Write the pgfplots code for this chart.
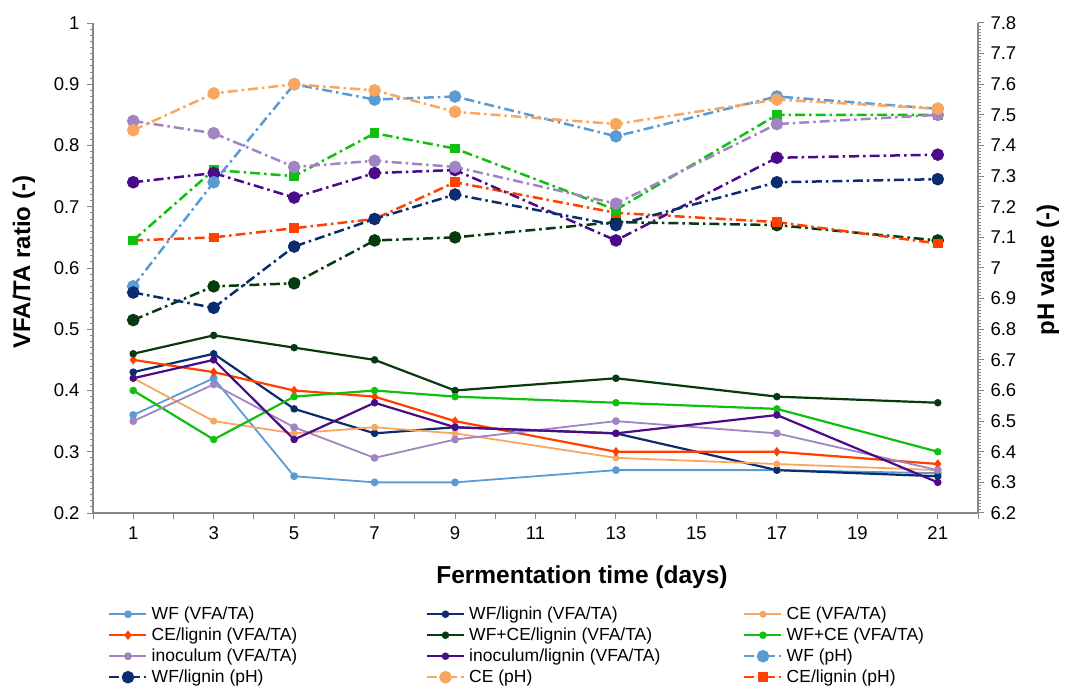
\documentclass[border=0pt]{standalone}
\usepackage{fontspec}
\setmainfont{Liberation Sans}
\usepackage{pgfplots}
\pgfplotsset{compat=1.18}
\definecolor{cWF}{HTML}{5B9BD5}
\definecolor{cWFL}{HTML}{0B2C6E}
\definecolor{cCE}{HTML}{F9A65F}
\definecolor{cCEL}{HTML}{FF4000}
\definecolor{cWCL}{HTML}{073B0F}
\definecolor{cWC}{HTML}{10C010}
\definecolor{cIN}{HTML}{A085C2}
\definecolor{cINL}{HTML}{4B0A8A}
\definecolor{axgray}{RGB}{134,134,134}
\pgfplotsset{
  vfa/.style={color=#1, solid, line width=2.2pt, mark=*, mark size=2.6pt, mark options={solid,fill=#1}},
  ph/.style={color=#1, line width=2.5pt, dash pattern=on 10pt off 4pt on 2.5pt off 4pt, mark=*, mark size=5pt, mark options={solid,fill=#1}},
  phsq/.style={color=#1, line width=2.5pt, dash pattern=on 10pt off 4pt on 2.5pt off 4pt, mark=square*, mark size=3.6pt, mark options={solid,fill=#1}},
  basestyle/.style={
    scale only axis, width=885pt, height=490pt,
    xmin=0, xmax=22,
    axis line style={axgray, line width=1.3pt, -},
    tick style={axgray, line width=1pt},
    tick align=outside,
    major tick length=6pt, minor tick length=3pt,
    tick label style={font=\fontsize{18.5}{20}\selectfont, text=black},
    clip=false,
  },
}
\begin{document}
\begin{tikzpicture}[x=1pt,y=1pt]
\path[use as bounding box] (0,0) rectangle (1066,686);
\begin{axis}[basestyle,
  at={(93pt,173pt)}, anchor=south west,
  ymin=0.2, ymax=1,
  axis x line*=bottom, axis y line*=left,
  xtick={0,...,22},
  xticklabels={,1,,3,,5,,7,,9,,11,,13,,15,,17,,19,,21,},
  ytick={0.2,0.3,0.4,0.5,0.6,0.7,0.8,0.9,1},
  yticklabels={0.2,0.3,0.4,0.5,0.6,0.7,0.8,0.9,1},
  minor y tick num=9,
  xticklabel style={yshift=-4pt},
  yticklabel style={xshift=-4pt},
  xlabel={Fermentation time (days)},
  xlabel style={at={(rel axis cs:0.5525,-0.1306)}, anchor=center, font=\bfseries\fontsize{24.5}{27}\selectfont},
  ylabel={VFA/TA ratio (-)},
  ylabel style={at={(rel axis cs:-0.078,0.512)}, anchor=center, font=\bfseries\fontsize{24}{27}\selectfont},
  legend columns=3,
  legend cell align=left,
  legend style={at={(rel axis cs:0.017,-0.1878)}, anchor=north west, draw=none, fill=none, inner sep=0pt,
    font=\fontsize{17.5}{21}\selectfont, row sep=3pt,
    nodes={inner sep=0pt, text height=14pt, text depth=4pt},
    /tikz/every odd column/.append style={column sep=4pt}},
  legend image code/.code={\draw[mark repeat=2, mark phase=2, #1] plot coordinates {(0pt,0pt) (18.5pt,0pt) (37pt,0pt)};},
]
\addplot[vfa=cWF, line width=1.8pt, mark size=3pt] coordinates {(1,0.36)(3,0.42)(5,0.26)(7,0.25)(9,0.25)(13,0.27)(17,0.27)(21,0.265)};
\addlegendentry{\makebox[274pt][l]{WF (VFA/TA)}}
\addplot[vfa=cWFL] coordinates {(1,0.43)(3,0.46)(5,0.37)(7,0.33)(9,0.34)(13,0.33)(17,0.27)(21,0.26)};
\addlegendentry{\makebox[274pt][l]{WF/lignin (VFA/TA)}}
\addplot[vfa=cCE, line width=1.8pt] coordinates {(1,0.42)(3,0.35)(5,0.33)(7,0.34)(9,0.33)(13,0.29)(17,0.28)(21,0.27)};
\addlegendentry{\makebox[274pt][l]{CE (VFA/TA)}}
\addplot[vfa=cCEL, mark=diamond*, mark size=3pt] coordinates {(1,0.45)(3,0.43)(5,0.40)(7,0.39)(9,0.35)(13,0.30)(17,0.30)(21,0.28)};
\addlegendentry{\makebox[274pt][l]{CE/lignin (VFA/TA)}}
\addplot[vfa=cWCL] coordinates {(1,0.46)(3,0.49)(5,0.47)(7,0.45)(9,0.40)(13,0.42)(17,0.39)(21,0.38)};
\addlegendentry{\makebox[274pt][l]{WF+CE/lignin (VFA/TA)}}
\addplot[vfa=cWC] coordinates {(1,0.40)(3,0.32)(5,0.39)(7,0.40)(9,0.39)(13,0.38)(17,0.37)(21,0.30)};
\addlegendentry{\makebox[274pt][l]{WF+CE (VFA/TA)}}
\addplot[vfa=cIN, line width=1.8pt, mark size=3pt] coordinates {(1,0.35)(3,0.41)(5,0.34)(7,0.29)(9,0.32)(13,0.35)(17,0.33)(21,0.27)};
\addlegendentry{\makebox[274pt][l]{inoculum (VFA/TA)}}
\addplot[vfa=cINL] coordinates {(1,0.42)(3,0.45)(5,0.32)(7,0.38)(9,0.34)(13,0.33)(17,0.36)(21,0.25)};
\addlegendentry{\makebox[274pt][l]{inoculum/lignin (VFA/TA)}}
\addlegendimage{ph=cWF}
\addlegendentry{\makebox[274pt][l]{WF (pH)}}
\addlegendimage{ph=cWFL}
\addlegendentry{\makebox[274pt][l]{WF/lignin (pH)}}
\addlegendimage{ph=cCE}
\addlegendentry{\makebox[274pt][l]{CE (pH)}}
\addlegendimage{phsq=cCEL}
\addlegendentry{\makebox[274pt][l]{CE/lignin (pH)}}
\end{axis}
\begin{axis}[basestyle,
  at={(93pt,173pt)}, anchor=south west,
  ymin=6.2, ymax=7.8,
  axis x line=none, axis y line*=right,
  ytick={6.2,6.3,6.4,6.5,6.6,6.7,6.8,6.9,7,7.1,7.2,7.3,7.4,7.5,7.6,7.7,7.8},
  yticklabels={6.2,6.3,6.4,6.5,6.6,6.7,6.8,6.9,7,7.1,7.2,7.3,7.4,7.5,7.6,7.7,7.8},
  minor y tick num=9,
  yticklabel style={xshift=3pt},
  ylabel={pH value (-)},
  ylabel style={at={(rel axis cs:1.079,0.496)}, anchor=center, rotate=0, font=\bfseries\fontsize{24}{27}\selectfont},
]
\addplot[ph=cWCL] coordinates {(1,6.83)(3,6.94)(5,6.95)(7,7.09)(9,7.10)(13,7.15)(17,7.14)(21,7.09)};
\addplot[phsq=cCEL] coordinates {(1,7.09)(3,7.10)(5,7.13)(7,7.16)(9,7.28)(13,7.18)(17,7.15)(21,7.08)};
\addplot[phsq=cWC] coordinates {(1,7.09)(3,7.32)(5,7.30)(7,7.44)(9,7.39)(13,7.19)(17,7.50)(21,7.50)};
\addplot[ph=cINL] coordinates {(1,7.28)(3,7.31)(5,7.23)(7,7.31)(9,7.32)(13,7.09)(17,7.36)(21,7.37)};
\addplot[ph=cIN] coordinates {(1,7.48)(3,7.44)(5,7.33)(7,7.35)(9,7.33)(13,7.21)(17,7.47)(21,7.50)};
\addplot[ph=cWF] coordinates {(1,6.94)(3,7.28)(5,7.60)(7,7.55)(9,7.56)(13,7.43)(17,7.56)(21,7.52)};
\addplot[ph=cWFL] coordinates {(1,6.92)(3,6.87)(5,7.07)(7,7.16)(9,7.24)(13,7.14)(17,7.28)(21,7.29)};
\addplot[ph=cCE] coordinates {(1,7.45)(3,7.57)(5,7.60)(7,7.58)(9,7.51)(13,7.47)(17,7.55)(21,7.52)};
\end{axis}
\end{tikzpicture}
\end{document}
